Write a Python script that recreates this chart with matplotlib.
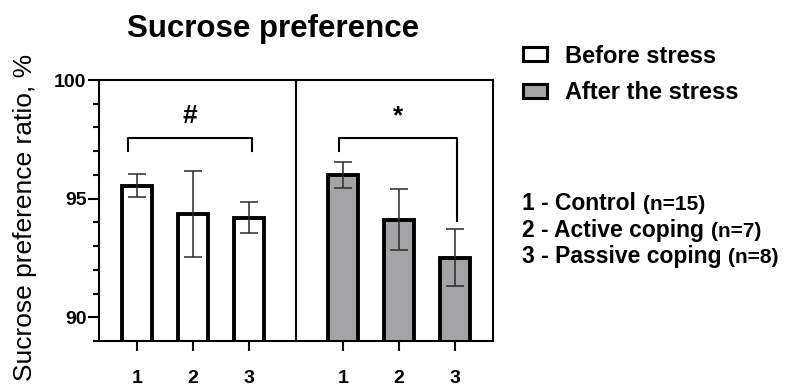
import matplotlib
matplotlib.use("Agg")
import matplotlib.pyplot as plt
from matplotlib.patches import Patch
from matplotlib.ticker import MultipleLocator

plt.rcParams["font.family"] = ["Liberation Sans", "DejaVu Sans"]

# Group labels and mean ± error values (sucrose preference ratio, %)
groups = ["1", "2", "3"]
before_mean = [95.55, 94.35, 94.20]
before_err = [0.50, 1.80, 0.65]
after_mean = [96.00, 94.12, 92.50]
after_err = [0.55, 1.28, 1.20]
group_names = ["1 - Control", "2 - Active coping", "3 - Passive coping"]
group_n = ["(n=15)", "(n=7)", "(n=8)"]
series_names = ["Before stress", "After the stress"]

grey = "#a4a4a7"
bar_w = 0.54
x_before = [0.0, 1.0, 2.0]
x_after = [3.68, 4.68, 5.68]
divider = 2.84

fig = plt.figure(figsize=(7.87, 3.88), dpi=100)
ax = fig.add_axes([0.1258, 0.1211, 0.5006, 0.6727])

ax.bar(x_before, before_mean, width=bar_w, color="white", edgecolor="black",
       linewidth=2.8, zorder=2)
ax.bar(x_after, after_mean, width=bar_w, color=grey, edgecolor="black",
       linewidth=2.8, zorder=2)
for xs, m, e in [(x_before, before_mean, before_err), (x_after, after_mean, after_err)]:
    ax.errorbar(xs, m, yerr=e, fmt="none", ecolor="#2a2a2a", elinewidth=1.1,
                capsize=6.5, capthick=1.1, zorder=3)

ax.set_ylim(89, 100)
ax.set_xlim(-0.68, 6.36)
ax.axvline(divider, color="black", lw=1.5, zorder=4)

for s in ax.spines.values():
    s.set_linewidth(1.5)

ax.yaxis.set_major_locator(MultipleLocator(5))
ax.yaxis.set_minor_locator(MultipleLocator(1))
ax.tick_params(axis="y", which="major", length=8, width=1.5, pad=1,
               labelsize=14)
ax.tick_params(axis="y", which="minor", length=4.5, width=1.5)
for lab in ax.get_yticklabels():
    lab.set_fontweight("bold")

ax.set_xticks(x_before + x_after)
ax.set_xticklabels(groups + groups, fontsize=14, fontweight="bold")
ax.tick_params(axis="x", length=7, width=1.5, pad=14)

ax.set_ylabel("Sucrose preference ratio, %", fontsize=19)
ax.yaxis.set_label_coords(-0.158, 0.475)

# Significance brackets
def bracket(x0, x1, y, y0, y1, label):
    ax.plot([x0, x0, x1, x1], [y0, y, y, y1], color="black", lw=1.5, zorder=4)
    ax.text((x0 + x1) / 2, y + 0.9, label, ha="center", va="center",
            fontsize=19, fontweight="bold")

bracket(x_before[0] - 0.16, x_before[2] + 0.05, 97.57, 97.0, 97.0, "#")
bracket(x_after[0] - 0.07, x_after[2] + 0.04, 97.57, 97.0, 94.05, "*")

fig.text(0.347, 0.925, "Sucrose preference", ha="center", va="center",
         fontsize=22.5, fontweight="bold")

handles = [Patch(facecolor="white", edgecolor="black", linewidth=2.2),
           Patch(facecolor=grey, edgecolor="black", linewidth=2.2)]
leg = fig.legend(handles, series_names, loc="upper left",
                 bbox_to_anchor=(0.664, 0.885), frameon=False,
                 prop={"weight": "bold", "size": 17}, handlelength=1.05,
                 handleheight=0.55, handletextpad=0.75, labelspacing=0.57,
                 borderpad=0, borderaxespad=0)

fig.canvas.draw()
renderer = fig.canvas.get_renderer()
y_rows = [0.459, 0.388, 0.321]
for name, n, yy in zip(group_names, group_n, y_rows):
    t = fig.text(0.663, yy, name, fontsize=16.5, fontweight="bold",
                 ha="left", va="baseline")
    bb = t.get_window_extent(renderer)
    x_next = (bb.x1 + 7) / fig.bbox.width
    fig.text(x_next, yy, n, fontsize=15, fontweight="bold",
             ha="left", va="baseline")

fig.savefig("out.png", dpi=100)
